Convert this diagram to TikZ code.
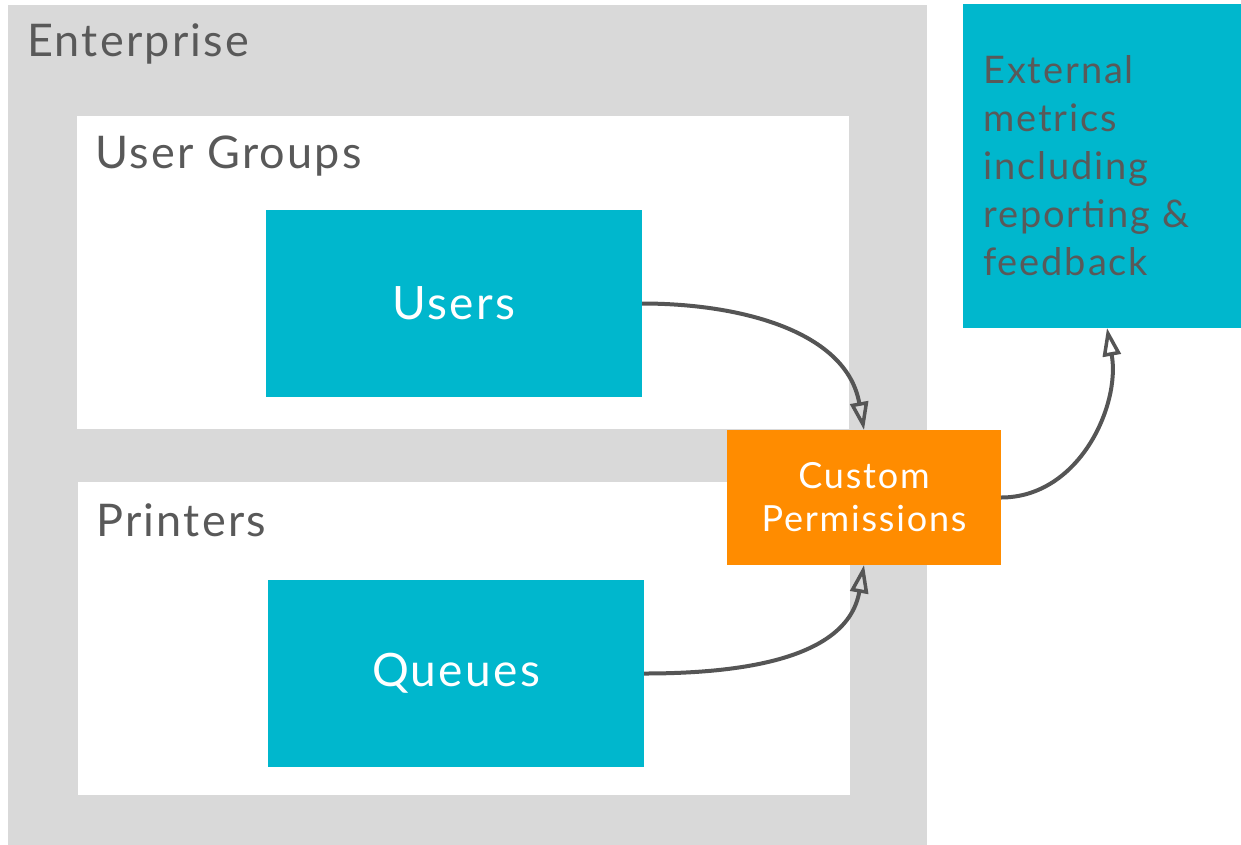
\documentclass[tikz,border=0pt]{standalone}
\usepackage{fontspec}
\setmainfont{Lato}[LetterSpace=5]
\usetikzlibrary{arrows.meta}
\definecolor{entgray}{RGB}{217,217,217}
\definecolor{teal}{RGB}{0,183,205}
\definecolor{orangeP}{RGB}{255,140,0}
\definecolor{txtgray}{RGB}{89,89,89}
\definecolor{linegray}{RGB}{85,85,85}
\tikzset{
  area/.style={anchor=north west, inner sep=0pt, outer sep=0pt},
  lbl/.style={anchor=west, inner sep=0pt, text=txtgray, font=\fontsize{45}{52}\selectfont},
  tealbox/.style={area, fill=teal, text=white, font=\fontsize{46}{52}\selectfont},
  conn/.style={draw=linegray, line width=4pt, -{Triangle[open, length=28pt, width=18pt, line width=3.5pt]}},
}
\begin{document}
\begin{tikzpicture}[x=1pt,y=-1pt]
\useasboundingbox (0,0) rectangle (1241,844);
\node[area, fill=entgray, minimum width=919pt, minimum height=840pt] (ent) at (8,5) {};
\node[lbl] (entl) at (27,44) {Enterprise};
\node[area, fill=white, minimum width=772pt, minimum height=313pt] (ug) at (77,116) {};
\node[lbl] (ugl) at (95,156) {User Groups};
\node[area, fill=white, minimum width=772pt, minimum height=313pt] (pr) at (78,482) {};
\node[lbl] (prl) at (96,520) {Printers};
\node[tealbox, minimum width=376pt, minimum height=187pt] (users) at (266,210) {Users};
\node[tealbox, minimum width=376pt, minimum height=187pt] (queues) at (268,580) {Queues};
\node[area, fill=teal, minimum width=278pt, minimum height=324pt] (ext) at (963,4) {};
\node[anchor=north west, inner sep=0pt, text=txtgray, align=left, font=\fontsize{38}{48}\selectfont] (extt) at (983,55) {External\\metrics\\including\\reporting \&\\feedback};
\node[area, fill=orangeP, text=white, align=center, minimum width=274pt, minimum height=135pt, font=\fontsize{36}{43}\selectfont] (cp) at (727,430) {Custom\\Permissions};
\draw[conn] (users.east) to[out=0, in=100] (cp.north);
\draw[conn] (queues.east) to[out=0, in=-100] (cp.south);
\draw[conn] (cp.east) to[out=0, in=-80] ([xshift=5pt]ext.south);
\end{tikzpicture}
\end{document}
